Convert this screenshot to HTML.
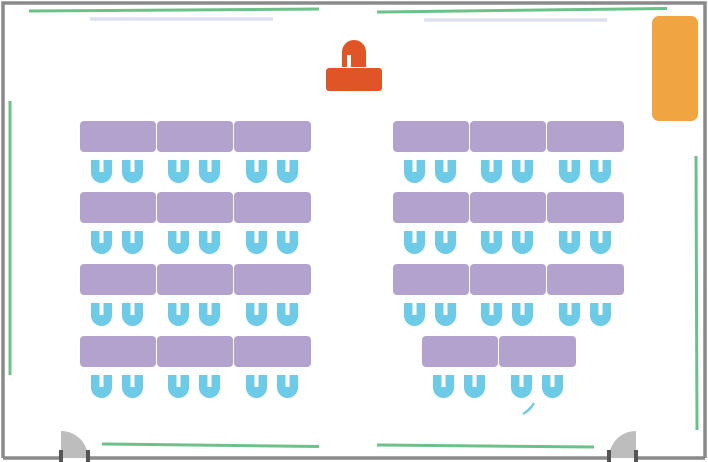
<!DOCTYPE html>
<html><head><meta charset="utf-8"><style>html,body{margin:0;padding:0;background:#fff}svg{display:block}</style></head>
<body>
<svg width="708" height="462" viewBox="0 0 708 462" xmlns="http://www.w3.org/2000/svg">
<defs>
<symbol id="ch" viewBox="0 0 21 23" width="21" height="23">
<path d="M0 0 H8.5 V12 H12.5 V0 H21 V12.5 A10.5 10.5 0 0 1 0 12.5 Z" fill="#6ecbe8"/>
</symbol>
</defs>
<!-- walls -->
<path d="M3 458 V3 H705 V458" fill="none" stroke="#8a8a8a" stroke-width="3.5"/>
<line x1="3" y1="458" x2="60" y2="458" stroke="#8a8a8a" stroke-width="3.5"/>
<line x1="88" y1="458" x2="609" y2="458" stroke="#8a8a8a" stroke-width="3.5"/>
<line x1="636" y1="458" x2="705" y2="458" stroke="#8a8a8a" stroke-width="3.5"/>
<!-- green lines -->
<g stroke="#6cc18a" stroke-width="3">
<line x1="29" y1="11" x2="319" y2="9"/>
<line x1="377" y1="12" x2="667" y2="8.5"/>
<line x1="10" y1="101" x2="10" y2="375"/>
<line x1="696" y1="156" x2="697" y2="430"/>
<line x1="102" y1="444" x2="319" y2="446.5"/>
<line x1="377" y1="445" x2="594" y2="447"/>
</g>
<g stroke="#dde0f0" stroke-width="3.5">
<line x1="90" y1="19" x2="273" y2="19"/>
<line x1="424" y1="20" x2="607" y2="20"/>
</g>
<!-- doors -->
<path d="M61 458 V431 A27 27 0 0 1 88 458 Z" fill="#bdbdbd"/>
<rect x="59" y="450" width="4" height="12" fill="#555"/>
<rect x="86" y="450" width="4" height="12" fill="#555"/>
<path d="M636 458 V431 A27 27 0 0 0 609 458 Z" fill="#bdbdbd"/>
<rect x="607" y="450" width="4" height="12" fill="#555"/>
<rect x="634" y="450" width="4" height="12" fill="#555"/>
<!-- orange -->
<rect x="652" y="16" width="46" height="105" rx="7" fill="#f0a442"/>
<path d="M342 67 V52 A12 12 0 0 1 366 52 V67 H351 V55 H347 V67 Z" fill="#e05527"/>
<rect x="326" y="68" width="56" height="23" rx="3" fill="#e05527"/>
<!-- desks -->
<g fill="#b3a2ce">
<rect x="80" y="121" width="76" height="31" rx="4"/><rect x="157" y="121" width="76" height="31" rx="4"/><rect x="234" y="121" width="77" height="31" rx="4"/>
<rect x="80" y="192" width="76" height="31" rx="4"/><rect x="157" y="192" width="76" height="31" rx="4"/><rect x="234" y="192" width="77" height="31" rx="4"/>
<rect x="80" y="264" width="76" height="31" rx="4"/><rect x="157" y="264" width="76" height="31" rx="4"/><rect x="234" y="264" width="77" height="31" rx="4"/>
<rect x="80" y="336" width="76" height="31" rx="4"/><rect x="157" y="336" width="76" height="31" rx="4"/><rect x="234" y="336" width="77" height="31" rx="4"/>
<rect x="393" y="121" width="76" height="31" rx="4"/><rect x="470" y="121" width="76" height="31" rx="4"/><rect x="547" y="121" width="77" height="31" rx="4"/>
<rect x="393" y="192" width="76" height="31" rx="4"/><rect x="470" y="192" width="76" height="31" rx="4"/><rect x="547" y="192" width="77" height="31" rx="4"/>
<rect x="393" y="264" width="76" height="31" rx="4"/><rect x="470" y="264" width="76" height="31" rx="4"/><rect x="547" y="264" width="77" height="31" rx="4"/>
<rect x="422" y="336" width="76" height="31" rx="4"/><rect x="499" y="336" width="77" height="31" rx="4"/>
</g>
<!-- chairs -->
<g>
<use href="#ch" x="91" y="160"/><use href="#ch" x="122" y="160"/><use href="#ch" x="168" y="160"/><use href="#ch" x="199" y="160"/><use href="#ch" x="246" y="160"/><use href="#ch" x="277" y="160"/>
<use href="#ch" x="91" y="231"/><use href="#ch" x="122" y="231"/><use href="#ch" x="168" y="231"/><use href="#ch" x="199" y="231"/><use href="#ch" x="246" y="231"/><use href="#ch" x="277" y="231"/>
<use href="#ch" x="91" y="303"/><use href="#ch" x="122" y="303"/><use href="#ch" x="168" y="303"/><use href="#ch" x="199" y="303"/><use href="#ch" x="246" y="303"/><use href="#ch" x="277" y="303"/>
<use href="#ch" x="91" y="375"/><use href="#ch" x="122" y="375"/><use href="#ch" x="168" y="375"/><use href="#ch" x="199" y="375"/><use href="#ch" x="246" y="375"/><use href="#ch" x="277" y="375"/>
<use href="#ch" x="404" y="160"/><use href="#ch" x="435" y="160"/><use href="#ch" x="481" y="160"/><use href="#ch" x="512" y="160"/><use href="#ch" x="559" y="160"/><use href="#ch" x="590" y="160"/>
<use href="#ch" x="404" y="231"/><use href="#ch" x="435" y="231"/><use href="#ch" x="481" y="231"/><use href="#ch" x="512" y="231"/><use href="#ch" x="559" y="231"/><use href="#ch" x="590" y="231"/>
<use href="#ch" x="404" y="303"/><use href="#ch" x="435" y="303"/><use href="#ch" x="481" y="303"/><use href="#ch" x="512" y="303"/><use href="#ch" x="559" y="303"/><use href="#ch" x="590" y="303"/>
<use href="#ch" x="433" y="375"/><use href="#ch" x="464" y="375"/><use href="#ch" x="511" y="375"/><use href="#ch" x="542" y="375"/>
</g>
<path d="M523 414 Q531 410 534 403 Q530 409 523 414 Z" fill="#6ecbe8" stroke="#6ecbe8" stroke-width="2"/>
</svg>
</body></html>
